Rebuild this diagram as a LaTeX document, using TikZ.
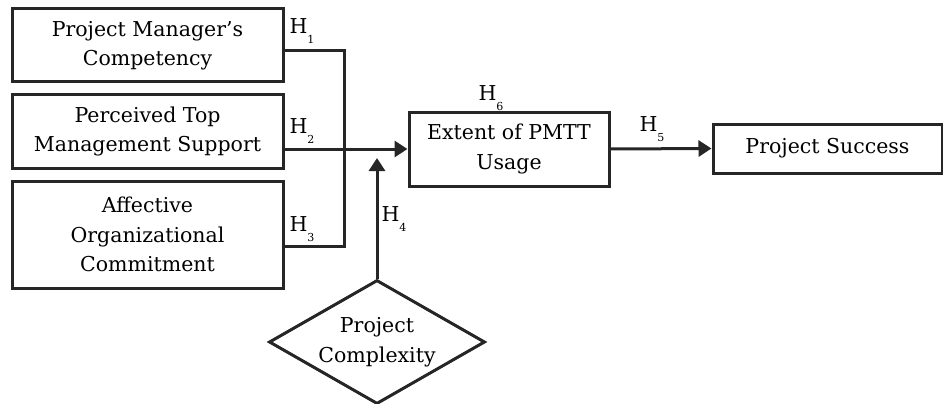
\documentclass[tikz,border=0pt]{standalone}
\usepackage{fontspec}
\setmainfont{DejaVu Serif}
\usetikzlibrary{arrows.meta,shapes.geometric}
\tikzset{
  every picture/.style={x=1pt,y=-1pt},
  box/.style={draw=black!85,line width=3pt,align=center,inner sep=0pt,font=\fontsize{20.5}{29.5}\selectfont},
  conn/.style={draw=black!85,line width=3pt},
  arr/.style={conn,-{Triangle[length=13pt,width=16pt]}},
  hlab/.style={font=\fontsize{20.5}{22}\selectfont,inner sep=0pt}
}
\newcommand{\hyp}[1]{H\raisebox{-0.45em}{\fontsize{11}{11}\selectfont #1}}
\begin{document}
\begin{tikzpicture}
\useasboundingbox (0,0) rectangle (943,404);
\node[box,minimum width=271pt,minimum height=73pt] (pmc) at (147.5,45.5) {Project Manager’s\\Competency};
\node[box,minimum width=271pt,minimum height=73pt] (tms) at (147.5,131.5) {Perceived Top\\Management Support};
\node[box,minimum width=271pt,minimum height=107pt] (aoc) at (147.5,234.5) {Affective\\Organizational\\Commitment};
\node[box,minimum width=200pt,minimum height=74pt] (pmtt) at (509,149) {Extent of PMTT\\Usage};
\node[box,minimum width=229pt,minimum height=49pt] (ps) at (827.5,148.5) {Project Success};
\node[diamond,aspect=1.74,draw=black!85,line width=3pt,align=center,inner sep=0pt,
      minimum width=216pt,minimum height=124pt,font=\fontsize{20.5}{29.5}\selectfont] (pc) at (377,342) {Project\\Complexity};
\coordinate (j1) at (344,51);
\coordinate (j3) at (344,246);
\draw[conn] (pmc.east |- j1) -- (j1) -- (j3) -- (aoc.east |- j3);
\draw[arr] (tms.east |- pmtt.west) -- (pmtt.west);
\draw[arr] (pc.north) -- (377,158);
\draw[arr] (pmtt.east) -- (ps.west);
\node[hlab] (h1) at (302,31) {\hyp{1}};
\node[hlab] (h2) at (302,131) {\hyp{2}};
\node[hlab] (h3) at (302,229) {\hyp{3}};
\node[hlab] (h4) at (394,219) {\hyp{4}};
\node[hlab] (h5) at (652,129) {\hyp{5}};
\node[hlab] (h6) at (491,98) {\hyp{6}};
\end{tikzpicture}
\end{document}
